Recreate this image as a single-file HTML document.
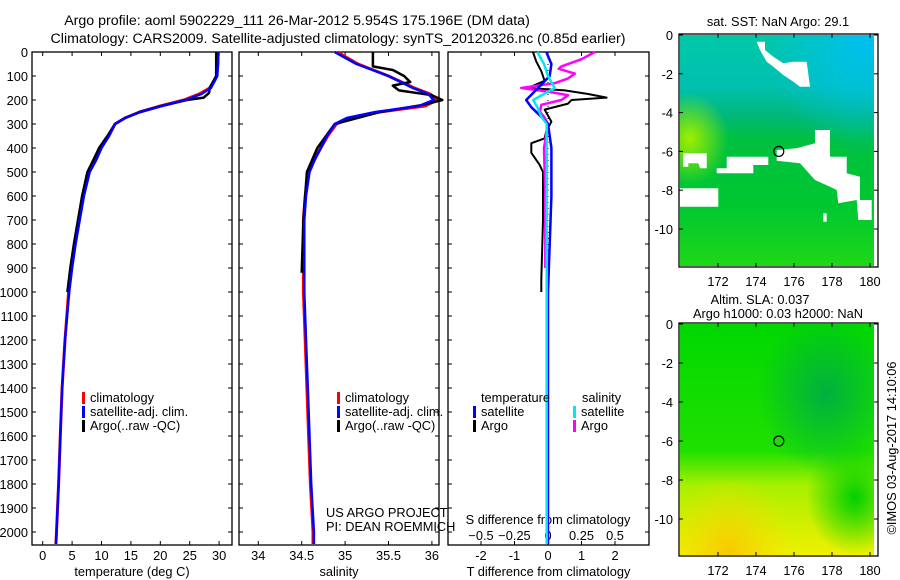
<!DOCTYPE html>
<html><head><meta charset="utf-8"><style>
html,body{margin:0;padding:0;background:#fff;}
svg{display:block;font-family:"Liberation Sans",sans-serif;font-size:12.8px;}
</style></head><body>
<svg id="fig" width="900" height="580" viewBox="0 0 900 580" xmlns="http://www.w3.org/2000/svg">
<defs>
<linearGradient id="sstg" x1="0" y1="0" x2="0" y2="1">
<stop offset="0" stop-color="#00c8a8"/><stop offset="0.22" stop-color="#00c0b0"/><stop offset="0.35" stop-color="#00b878"/><stop offset="0.45" stop-color="#00c040"/><stop offset="0.75" stop-color="#00c830"/><stop offset="1" stop-color="#20d818"/></linearGradient>
<radialGradient id="sstb" cx="0.95" cy="0.02" r="0.5"><stop offset="0" stop-color="#00c0f0"/><stop offset="1" stop-color="#00c0f0" stop-opacity="0"/></radialGradient>
<radialGradient id="sstl" cx="0.05" cy="0.45" r="0.2"><stop offset="0" stop-color="#a0f000"/><stop offset="1" stop-color="#a0f000" stop-opacity="0"/></radialGradient>
<linearGradient id="slag" x1="0" y1="0" x2="0" y2="1">
<stop offset="0" stop-color="#00d800"/><stop offset="0.55" stop-color="#20e000"/><stop offset="0.7" stop-color="#a8f000"/><stop offset="1" stop-color="#f0f000"/></linearGradient>
<radialGradient id="slao" cx="0.25" cy="1" r="0.35"><stop offset="0" stop-color="#f8c800"/><stop offset="1" stop-color="#f8e000" stop-opacity="0"/></radialGradient>
<radialGradient id="slad" cx="0.75" cy="0.3" r="0.35"><stop offset="0" stop-color="#00b040"/><stop offset="1" stop-color="#00b040" stop-opacity="0"/></radialGradient>
<radialGradient id="slar" cx="0.9" cy="0.75" r="0.25"><stop offset="0" stop-color="#00d000"/><stop offset="1" stop-color="#00d000" stop-opacity="0"/></radialGradient>
</defs>
<g id="root"></g>
</svg>
<script>
// ---- data ----
const climDepth = [0,50,100,150,175,200,225,250,275,300,350,400,450,500,600,700,800,900,1000,1200,1400,1600,1800,2000,2050];
const climTemp  = [29.8,29.8,29.6,28.4,26.6,24.0,20.0,16.5,14.0,12.3,11.2,9.9,9.0,7.9,6.9,6.2,5.5,4.9,4.4,3.8,3.3,3.0,2.7,2.35,2.25];
const satTemp   = [29.9,29.8,29.7,28.6,27.0,24.3,20.2,16.6,14.0,12.3,11.3,10.0,9.1,8.0,7.0,6.3,5.6,5.0,4.5,3.8,3.3,3.0,2.7,2.35,2.25];
const argoDepth = [0,50,100,150,170,190,200,225,250,275,300,350,400,450,500,600,700,800,900,1000];
const argoTemp  = [29.5,29.5,29.5,28.4,28.3,27.4,24.5,20.2,16.5,14.0,12.3,11.0,9.6,8.6,7.6,6.7,6.0,5.3,4.7,4.2];
const climSal   = [34.91,35.15,35.5,35.8,35.98,36.06,35.92,35.4,35.05,34.9,34.8,34.72,34.64,34.58,34.54,34.52,34.52,34.52,34.52,34.54,34.56,34.58,34.6,34.63,34.63];
const satSal    = [34.88,35.13,35.5,35.78,35.96,36.02,35.85,35.35,35.02,34.88,34.79,34.72,34.65,34.59,34.55,34.53,34.53,34.53,34.53,34.55,34.57,34.59,34.61,34.64,34.64];
const argoSalDepth = [0,60,75,100,125,140,160,180,200,220,250,300,400,500,700,920];
const argoSal   = [35.32,35.32,35.55,35.68,35.75,35.55,35.62,36.0,36.12,35.9,35.4,34.88,34.68,34.56,34.52,34.5];
const diffDepth = [0,40,80,120,150,160,175,190,200,215,240,290,330,360,380,420,470,500,700,950,1000];
const argoTDiff = [-0.45,-0.35,-0.2,-0.1,-0.6,0.5,1.2,1.75,0.7,0.6,-0.1,0.1,-0.05,-0.1,-0.5,-0.5,-0.25,-0.15,-0.15,-0.2,-0.2];
const satDiffDepth = [0,50,100,150,200,230,270,300,400,600,800,1000,1500,2050];
const satTDiff  = [-0.05,0.1,0.05,-0.3,-0.65,-0.5,-0.2,0,0.1,0.1,0.05,0.0,0.0,0.0];
const satSDiff  = [-0.08,-0.03,0.0,0.05,-0.11,-0.08,-0.05,-0.01,-0.01,-0.01,-0.01,-0.01,-0.01,-0.01];
const argoSDiffDepth = [0,30,60,70,90,110,130,150,165,180,200,220,250,270,300,400,600,900];
const argoSDiff = [0.35,0.25,0.1,0.08,0.2,0.15,0.05,-0.2,0.0,0.15,0.1,-0.05,-0.06,-0.03,0,-0.03,-0.02,-0.02];
const depthTicks = [0,100,200,300,400,500,600,700,800,900,1000,1100,1200,1300,1400,1500,1600,1700,1800,1900,2000];
const tempTicks = [0,5,10,15,20,25,30];
const salTicks = [34,34.5,35,35.5,36];
const tdTicks = [-2,-1,0,1,2];
const sdTicks = [-0.5,-0.25,0,0.25,0.5];
const latTicks = [0,-2,-4,-6,-8,-10];
const lonTicks = [172,174,176,178,180];

// ---- scales ----
const yD = d => 52 + d*0.24;
const xT = t => 42.7 + t*5.88;
const xS = s => 258.3 + (s-34)*86.8;
const xTD = v => 548 + v*33.5;
const xSD = v => 548 + v*134;
const mapX = lon => 718 + (lon-172)*19;
const latY1 = lat => 35 - lat*19.4;
const latY2 = lat => 324 - lat*19.5;

const NS='http://www.w3.org/2000/svg';
const root=document.getElementById('root');
function mk(tag,attrs,parent){const e=document.createElementNS(NS,tag);for(const k in attrs)e.setAttribute(k,attrs[k]);(parent||root).appendChild(e);return e;}
function txt(x,y,s,anchor,parent){const e=mk('text',{x:x,y:y,'text-anchor':anchor||'start',fill:'#000'},parent);e.textContent=s;return e;}
function poly(xs,ds,xf,color,w,parent){let p='';for(let i=0;i<xs.length;i++)p+=(i?'L':'M')+xf(xs[i]).toFixed(1)+','+yD(ds[i]).toFixed(1);return mk('path',{d:p,fill:'none',stroke:color,'stroke-width':w||2.5,'stroke-linejoin':'round'},parent);}

// titles
let t=txt(297,25,'Argo profile: aoml 5902229_111 26-Mar-2012 5.954S 175.196E (DM data)','middle');


t.setAttribute('font-size','14.2');
t=txt(338,43,'Climatology: CARS2009. Satellite-adjusted climatology: synTS_20120326.nc (0.85d earlier)','middle');


t.setAttribute('font-size','14.2');

function panel(name,x0,x1,xt,xticks,labels,xlabel){
  const g=mk('g',{});
  
  
  mk('rect',{x:x0,y:52,width:x1-x0,height:493,fill:'none',stroke:'#000','stroke-width':1.3},g);
  depthTicks.forEach(d=>{mk('line',{x1:x0,y1:yD(d),x2:x0+4,y2:yD(d),stroke:'#000'},g);mk('line',{x1:x1,y1:yD(d),x2:x1-4,y2:yD(d),stroke:'#000'},g);});
  if(xt){xticks.forEach((v,i)=>{const x=xt(v);mk('line',{x1:x,y1:545,x2:x,y2:541,stroke:'#000'},g);mk('line',{x1:x,y1:52,x2:x,y2:56,stroke:'#000'},g);if(labels)txt(x,560,labels[i],'middle',g);});}
  if(xlabel)txt((x0+x1)/2,576,xlabel,'middle',g);
  return g;
}
const yax=mk('g',{});


depthTicks.forEach(d=>txt(28,yD(d)+5,String(d),'end',yax));

const p1=panel('temperature-panel',32,232,xT,tempTicks,tempTicks.map(String),'temperature (deg C)');
const p2=panel('salinity-panel',239,439,xS,salTicks,salTicks.map(String),'salinity');
const p3=panel('difference-panel',448,649,xTD,tdTicks,tdTicks.map(String),'T difference from climatology');

let l=poly(climTemp,climDepth,xT,'#ff0000',3,p1);


l=poly(argoTemp,argoDepth,xT,'#000',2.5,p1);


l=poly(satTemp,climDepth,xT,'#0000ff',2.5,p1);


l=poly(climSal,climDepth,xS,'#ff0000',3,p2);


l=poly(argoSal,argoSalDepth,xS,'#000',2.5,p2);


l=poly(satSal,climDepth,xS,'#0000ff',2.5,p2);



mk('line',{x1:548,y1:52,x2:548,y2:545,stroke:'#000','stroke-dasharray':'1,5'},p3);
sdTicks.forEach(v=>txt(xSD(v),540,String(v).replace('-','\u2212'),'middle',p3));
txt(548,524,'S difference from climatology','middle',p3);
l=poly(argoTDiff,diffDepth,xTD,'#000',2,p3);


l=poly(argoSDiff,argoSDiffDepth,xSD,'#ff00ff',2.5,p3);


l=poly(satTDiff,satDiffDepth,xTD,'#0000ff',2.5,p3);


l=poly(satSDiff,satDiffDepth,xSD,'#00e8f0',2.5,p3);



function legend(name,x,y,items){
  const g=mk('g',{});
  
  
  items.forEach((it,i)=>{if(it[1])mk('rect',{x:x,y:y+i*14-10,width:3,height:12,fill:it[1]},g);txt(x+(it[1]?8:0),y+i*14,it[0],'start',g);});
}
legend('temperature-legend',82,402,[['climatology','#ff0000'],['satellite-adj. clim.','#0000ff'],['Argo(..raw -QC)','#000']]);
legend('salinity-legend',337,402,[['climatology','#ff0000'],['satellite-adj. clim.','#0000ff'],['Argo(..raw -QC)','#000']]);
legend('tdiff-legend',481,402,[['temperature',null]]);
legend('tdiff-legend-items',473,416,[['satellite','#0000ff'],['Argo','#000']]);
legend('sdiff-legend',582,402,[['salinity',null]]);
legend('sdiff-legend-items',573,416,[['satellite','#00e8f0'],['Argo','#ff00ff']]);
const cr=mk('g',{});


txt(326,517,'US ARGO PROJECT','start',cr);
txt(326,531,'PI: DEAN ROEMMICH','start',cr);

function mapAxes(g,y0,latY){
  mk('rect',{x:679,y:y0-1,width:199,height:233,fill:'none',stroke:'#000','stroke-width':1.3},g);
  latTicks.forEach(v=>{const y=latY(v);mk('line',{x1:679,y1:y,x2:683,y2:y,stroke:'#000'},g);mk('line',{x1:878,y1:y,x2:874,y2:y,stroke:'#000'},g);txt(673,y+5,String(v),'end',g);});
  lonTicks.forEach(v=>{const x=mapX(v);mk('line',{x1:x,y1:y0-1,x2:x,y2:y0+3,stroke:'#000'},g);mk('line',{x1:x,y1:y0+232,x2:x,y2:y0+228,stroke:'#000'},g);txt(x,y0+251,String(v),'middle',g);});
  mk('circle',{cx:mapX(175.2),cy:latY(-6),r:5,fill:'none',stroke:'#000','stroke-width':1.2},g);
}
const m1=mk('g',{});


mk('rect',{x:680,y:35,width:194,height:231,fill:'url(#sstg)'},m1);
mk('rect',{x:680,y:35,width:194,height:231,fill:'url(#sstb)'},m1);
mk('rect',{x:680,y:35,width:194,height:231,fill:'url(#sstl)'},m1);
const wp=[
 [[320,125],[345,125],[345,150],[370,170],[400,190],[430,185],[470,185],[480,260],[450,260],[430,245],[400,225],[370,200],[350,185],[330,150]],
 [[495,390],[540,390],[540,470],[590,470],[590,520],[630,530],[630,600],[665,600],[665,660],[625,660],[620,600],[565,610],[560,570],[540,560],[495,540],[450,490],[380,482],[380,450],[440,445],[495,430]],
 [[100,460],[170,460],[170,505],[150,505],[145,490],[115,490],[115,500],[100,500]],
 [[230,470],[355,470],[355,495],[310,495],[310,520],[200,520],[200,505],[230,505]],
 [[90,565],[205,565],[205,620],[90,620]],
 [[520,640],[530,640],[530,665],[520,665]]];
wp.forEach(pp=>mk('polygon',{points:pp.map(p=>(650+p[0]/3).toFixed(1)+','+(p[1]/3).toFixed(1)).join(' '),fill:'#fff'},m1));
mapAxes(m1,35,latY1);
txt(778,26,'sat. SST: NaN Argo: 29.1','middle',m1);

const m2=mk('g',{});


mk('rect',{x:680,y:324,width:194,height:231,fill:'url(#slag)'},m2);
mk('rect',{x:680,y:324,width:194,height:231,fill:'url(#slad)'},m2);
mk('rect',{x:680,y:324,width:194,height:231,fill:'url(#slar)'},m2);
mk('rect',{x:680,y:324,width:194,height:231,fill:'url(#slao)'},m2);
mapAxes(m2,324,latY2);
txt(760,304,'Altim. SLA: 0.037','middle',m2);
txt(778,318,'Argo h1000: 0.03 h2000: NaN','middle',m2);

const st=txt(0,0,'\u00A9IMOS 03-Aug-2017 14:10:06','middle');
st.setAttribute('transform','translate(896,448) rotate(-90)');


</script>
</body></html>
